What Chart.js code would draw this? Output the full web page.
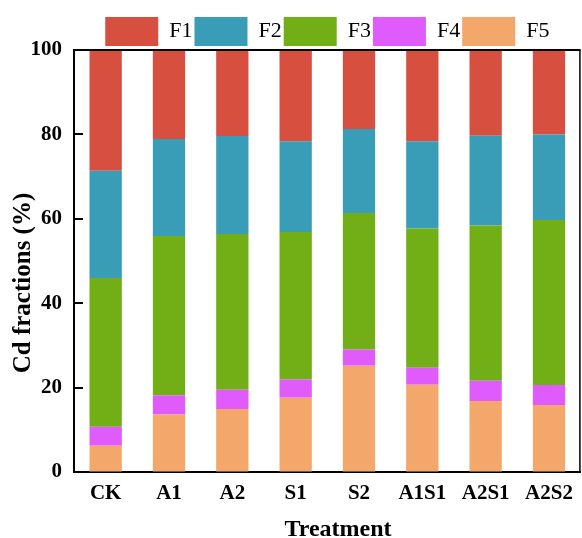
<!DOCTYPE html>
<html>
<head>
<meta charset="utf-8">
<script src="https://cdn.jsdelivr.net/npm/chart.js@4.4.1/dist/chart.umd.min.js"></script>
<style>
  html, body { margin: 0; padding: 0; background: #ffffff; }
  #wrap { width: 582px; height: 538px; position: relative; }
</style>
</head>
<body>
<div id="wrap"><canvas id="c" width="582" height="538"></canvas></div>
<script>
const categories = ['CK', 'A1', 'A2', 'S1', 'S2', 'A1S1', 'A2S1', 'A2S2'];
const F1 = [28.6, 21.1, 20.4, 21.6, 18.7, 21.6, 20.3, 20.0];
const F2 = [25.4, 23.0, 23.2, 21.5, 19.9, 20.7, 21.3, 20.3];
const F3 = [35.3, 37.7, 36.9, 35.0, 32.4, 33.0, 36.8, 39.1];
const F4 = [4.5, 4.6, 4.6, 4.3, 3.8, 4.0, 4.8, 4.7];
const F5 = [6.2, 13.6, 14.9, 17.6, 25.2, 20.7, 16.8, 15.9];
const yTicks = [0, 20, 40, 60, 80, 100];
const yTitle = 'Cd fractions (%)';
const xTitle = 'Treatment';

const SERIF = "'Liberation Serif', 'Times New Roman', serif";

const legendFix = {
  id: 'legendFix',
  beforeLayout(chart) {
    const lg = chart.legend;
    if (lg && !lg._fixed) {
      const orig = lg.fit;
      lg.fit = function () { orig.call(this); this.height = 35; };
      lg._fixed = true;
    }
  }
};

const frame = {
  id: 'frame',
  afterDraw(chart) {
    const { ctx, chartArea: a } = chart;
    const ys = chart.scales.y;
    ctx.save();
    ctx.strokeStyle = '#000';
    ctx.lineWidth = 2;
    ctx.beginPath();
    ctx.moveTo(a.left - 1, a.top);
    ctx.lineTo(a.right, a.top);
    ctx.stroke();
    ctx.lineWidth = 1.5;
    ctx.beginPath();
    ctx.moveTo(a.right - 0.75, a.top);
    ctx.lineTo(a.right - 0.75, a.bottom + 1);
    ctx.stroke();
    // inward y ticks
    ctx.lineWidth = 2;
    yTicks.forEach(v => {
      if (v === 0 || v === 100) return;
      const py = Math.round(ys.getPixelForValue(v));
      ctx.beginPath();
      ctx.moveTo(a.left, py);
      ctx.lineTo(a.left + 9, py);
      ctx.stroke();
    });
    // axis titles
    ctx.fillStyle = '#000';
    ctx.textAlign = 'center';
    ctx.textBaseline = 'alphabetic';
    ctx.font = 'bold 24px ' + SERIF;
    ctx.fillText(xTitle, 338, 536);
    ctx.font = 'bold 25px ' + SERIF;
    ctx.translate(30, 283);
    ctx.rotate(-Math.PI / 2);
    ctx.fillText(yTitle, 0, 0);
    ctx.restore();
  }
};

new Chart(document.getElementById('c'), {
  type: 'bar',
  data: {
    labels: categories,
    datasets: [
      { label: 'F5', data: F5, backgroundColor: '#F4A76A' },
      { label: 'F4', data: F4, backgroundColor: '#E05BFB' },
      { label: 'F3', data: F3, backgroundColor: '#72AE15' },
      { label: 'F2', data: F2, backgroundColor: '#3A9DB7' },
      { label: 'F1', data: F1, backgroundColor: '#D64F3F' }
    ]
  },
  options: {
    responsive: false,
    animation: false,
    devicePixelRatio: 1,
    layout: { padding: { top: 15, left: 0, right: 1, bottom: 0 } },
    datasets: { bar: { borderWidth: 0, categoryPercentage: 1, barPercentage: 0.51 } },
    plugins: {
      tooltip: { enabled: false },
      legend: {
        position: 'top',
        fullSize: false,
        reverse: true,
        labels: {
          boxWidth: 53,
          boxHeight: 29,
          padding: 2,
          color: '#000',
          font: { family: SERIF, size: 22, weight: 'normal' }
        }
      }
    },
    scales: {
      x: {
        stacked: true,
        grid: { display: false, drawTicks: false },
        border: { display: true, color: '#000', width: 2 },
        ticks: { color: '#000', padding: 9, font: { family: SERIF, size: 21, weight: 'bold' } },
        afterFit(s) { s.height = 66; }
      },
      y: {
        stacked: true,
        min: 0,
        max: 100,
        afterBuildTicks(s) { s.ticks = yTicks.map(v => ({ value: v })); },
        grid: { drawOnChartArea: false, drawTicks: false, color: '#000' },
        border: { display: true, color: '#000', width: 2 },
        ticks: { color: '#000', padding: 12, font: { family: SERIF, size: 21, weight: 'bold' } },
        afterFit(s) { s.width = 74; }
      }
    }
  },
  plugins: [legendFix, frame]
});
</script>
</body>
</html>
